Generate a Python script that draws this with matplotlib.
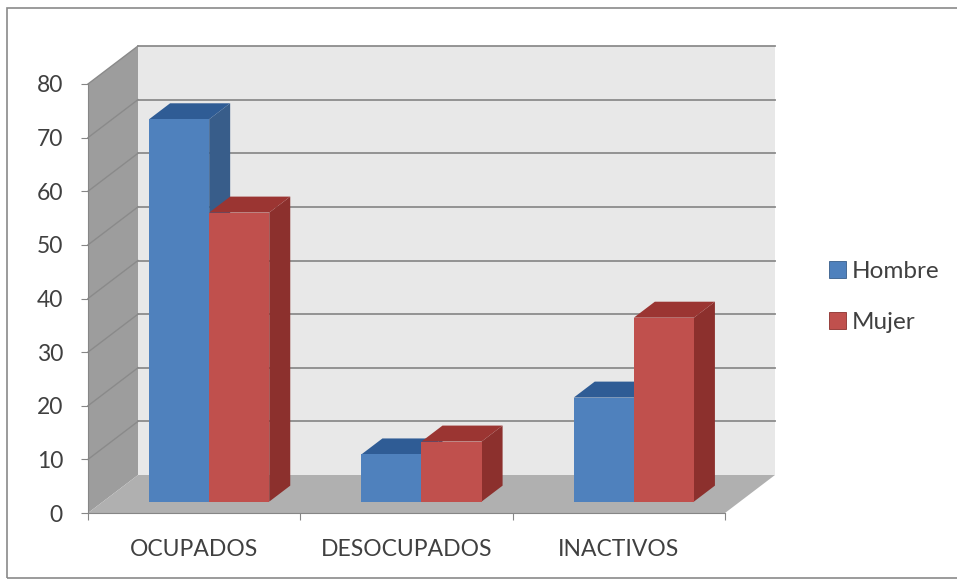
import matplotlib.pyplot as plt
from matplotlib.patches import Polygon, Patch, Rectangle

categorias = ['OCUPADOS', 'DESOCUPADOS', 'INACTIVOS']
hombre = [71.3, 8.8, 19.4]
mujer = [53.9, 11.2, 34.3]
series = ['Hombre', 'Mujer']

plt.rcParams['font.family'] = ['Lato', 'DejaVu Sans']
texto = '#404040'

fig = plt.figure(figsize=(9.57, 5.79), dpi=100)
W, H = 957, 579
# front plane of the 3d box, in pixels
x0, x1, y0, y1 = 88, 725, 513, 84
ax = fig.add_axes([x0 / W, (H - y0) / H, (x1 - x0) / W, (y0 - y1) / H])
ax.set_xlim(0, 3)
ax.set_ylim(0, 80)
ax.patch.set_visible(False)

# depth of the box in data units (50 px right, 38 px up)
DX = 50 / (x1 - x0) * 3
DY = 38 / (y0 - y1) * 80


def p(x, y, d):
    return (x + d * DX, y + d * DY)


def poly(pts, color, z, ec='none'):
    ax.add_patch(Polygon(pts, closed=True, facecolor=color, edgecolor=ec,
                         lw=0.8, zorder=z, clip_on=False))


# walls and floor
poly([p(0, 0, 1), p(3, 0, 1), p(3, 80, 1), p(0, 80, 1)], '#e8e8e8', 1)
poly([p(0, 0, 0), p(0, 0, 1), p(0, 80, 1), p(0, 80, 0)], '#9d9d9d', 1)
poly([p(0, 0, 0), p(3, 0, 0), p(3, 0, 1), p(0, 0, 1)], '#b0b0b0', 2)

for v in range(10, 90, 10):
    xs, ys = zip(p(0, v, 1), p(3, v, 1))
    ax.plot(xs, ys, color='#8c8c8c', lw=1.3, zorder=1.5, clip_on=False)
    xs, ys = zip(p(0, v, 0), p(0, v, 1))
    ax.plot(xs, ys, color='#8a8a8a', lw=1.0, zorder=1.5, clip_on=False)

# 3d bars
w = 0.283
d0, d1 = 0.3, 0.72
estilos = [('#4f81bd', '#2f5c95', '#385d8a'), ('#c0504d', '#9b3532', '#8c302d')]
for i in range(len(categorias)):
    c = i + 0.5
    for k, vals in enumerate([hombre, mujer]):
        v = vals[i]
        a, b = c - w + k * w, c + k * w
        frente, techo, lado = estilos[k]
        z = 3 + k
        poly([p(b, 0, d0), p(b, 0, d1), p(b, v, d1), p(b, v, d0)], lado, z)
        poly([p(a, v, d0), p(b, v, d0), p(b, v, d1), p(a, v, d1)], techo, z)
        poly([p(a, 0, d0), p(b, 0, d0), p(b, v, d0), p(a, v, d0)], frente, z)

# axes lines and ticks
for s in ['top', 'right']:
    ax.spines[s].set_visible(False)
for s in ['left', 'bottom']:
    ax.spines[s].set_color('#868686')
    ax.spines[s].set_zorder(6)
ax.set_yticks(range(0, 90, 10))
ax.set_xticks([0, 1, 2, 3])
ax.set_xticklabels([])
ax.set_xticks([0.5, 1.5, 2.5], minor=True)
ax.set_xticklabels(categorias, minor=True)
ax.tick_params(axis='y', colors='#868686', labelcolor=texto, labelsize=16.5,
               length=5, pad=13)
ax.tick_params(axis='x', which='major', colors='#868686', length=5)
ax.tick_params(axis='x', which='minor', length=0, labelcolor=texto,
               labelsize=16.5, pad=19)

# outer frame
fig.patches.append(Rectangle((7 / W, 1 - 578 / H), 1, 570 / H, transform=fig.transFigure,
                             fill=False, edgecolor='#8a8a8a', lw=1.2))

handles = [Patch(facecolor=estilos[k][0], edgecolor=estilos[k][2], lw=0.6) for k in range(2)]
fig.legend(handles, series, loc='center left', bbox_to_anchor=(829 / W, 1 - 297 / H),
           frameon=False, fontsize=17.5, handlelength=0.7, handleheight=0.7,
           handletextpad=0.25, labelspacing=1.25, labelcolor=texto,
           borderpad=0, borderaxespad=0)

fig.savefig('out.png', dpi=100)
